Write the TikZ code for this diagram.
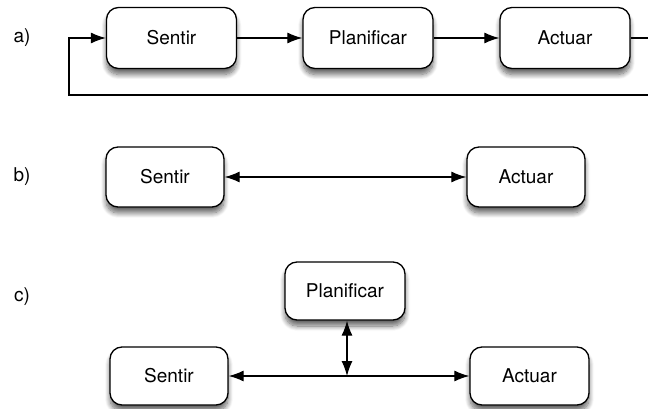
\documentclass[tikz,border=0pt]{standalone}
\usepackage{fontspec}
\setmainfont{TeX Gyre Heros}
\usepackage{tikz}
\usetikzlibrary{arrows.meta,positioning,calc,shadows.blur}

\tikzset{
  block/.style={draw,rounded corners=12pt,line width=1.3pt,fill=white,
    minimum width=130pt,minimum height=61pt,font=\fontsize{19}{22}\selectfont,
    blur shadow={shadow xshift=0pt,shadow yshift=-6pt,shadow opacity=60,shadow blur radius=5pt,shadow blur steps=10}},
  link/.style={line width=1.2pt,-{Latex[length=15pt,width=11pt]}},
  twoway/.style={line width=1.2pt,{Latex[length=15pt,width=11pt]}-{Latex[length=15pt,width=11pt]}},
  tag/.style={font=\fontsize{19}{22}\selectfont}
}

\begin{document}
\begin{tikzpicture}[x=1pt,y=1pt]
            \clip (0,0) rectangle (648,408);

            % Row labels
            \node[tag] (tagA) at (22,370) {a)};
            \node[tag] (tagB) at (22,231) {b)};
            \node[tag] (tagC) at (22,111) {c)};

            % a) loop blocks
            \node[block] (sentA) at (171.5,370) {Sentir};
            \node[block] (planA) at (368,370) {Planificar};
            \node[block] (actA) at (565,370) {Actuar};

            % a) feedback corners
            \coordinate (backR) at (660,370);
            \coordinate (backRD) at (660,313);
            \coordinate (backLD) at (69,313);
            \coordinate (backL) at (69,370);

            % a) arcs
            \draw[link] (sentA) -- (planA);
            \draw[link] (planA) -- (actA);
            \draw[link] (actA) -- (backR) -- (backRD) -- (backLD) -- (backL) -- (sentA);

            % b) reactive blocks
            \node[block,minimum width=118pt,minimum height=60pt] (sentB) at (165,231) {Sentir};
            \node[block,minimum width=118pt,minimum height=60pt] (actB) at (526,231) {Actuar};

            % b) arc
            \draw[twoway] (sentB) -- (actB);

            % c) hybrid blocks
            \node[block,minimum width=120pt,minimum height=58pt] (planC) at (345,117) {Planificar};
            \node[block,minimum width=118pt,minimum height=58pt] (sentC) at (169,32) {Sentir};
            \node[block,minimum width=119pt,minimum height=58pt] (actC) at (529.5,32) {Actuar};
            \coordinate (joinC) at (347,32);

            % c) arcs
            \draw[twoway] (sentC) -- (actC);
            \draw[twoway] (planC.south -| joinC) -- (joinC);

\end{tikzpicture}
\end{document}
